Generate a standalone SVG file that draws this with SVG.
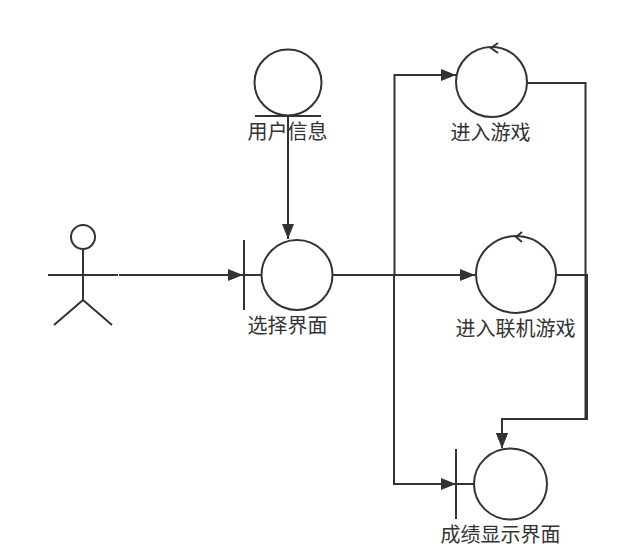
<svg xmlns="http://www.w3.org/2000/svg" width="617" height="551" viewBox="0 0 617 551">
<style>
.s{fill:none;stroke:#333;stroke-width:2}
.c{fill:#fff;stroke:#333;stroke-width:2}
.e{fill:none;stroke:#333;stroke-width:2}
text{font-family:"Noto Sans CJK SC","Liberation Sans",sans-serif;font-size:20px;fill:#333;text-anchor:middle}
</style>
<defs><marker id="a" markerUnits="userSpaceOnUse" markerWidth="16" markerHeight="12" refX="15" refY="6" orient="auto"><path d="M0 0L15 6L0 12L0 6Z" fill="#333"/></marker></defs>
<rect width="617" height="551" fill="#fff"/>
<g id="connectors">
<path class="e" d="M119 275H243" marker-end="url(#a)"/>
<path class="e" d="M288 116V239" marker-end="url(#a)"/>
<path class="e" d="M332 275H394.500V75H456" marker-end="url(#a)"/>
<path class="e" d="M394 275H475" marker-end="url(#a)"/>
<path class="e" d="M394 275V484H456" marker-end="url(#a)"/>
<path class="e" d="M527 83H585.500V419H502V448" marker-end="url(#a)"/>
<path class="e" d="M556 275H587V419H502V448" marker-end="url(#a)"/>
</g>
<g id="actor">
<circle class="c" cx="83" cy="237" r="12"/>
<path class="s" d="M83 250V300M48 275H118M83 300L54 325M83 300L112 325"/>
</g>
<g id="user-info">
<ellipse class="c" cx="288" cy="82.500" rx="33.500" ry="33"/>
<path class="s" d="M255 116H321"/>
<text x="287.500" y="139">用户信息</text>
</g>
<g id="select">
<path class="s" d="M244 240V310M244 275H261"/>
<ellipse class="c" cx="297" cy="275" rx="35.500" ry="35"/>
<text x="287.500" y="333">选择界面</text>
</g>
<g id="enter-game">
<ellipse class="c" cx="491.500" cy="82" rx="35.500" ry="35"/>
<path class="s" d="M498 43L491 48L498 53"/>
<text x="490.500" y="140">进入游戏</text>
</g>
<g id="enter-online">
<ellipse class="c" cx="516" cy="274.500" rx="40" ry="38.500"/>
<path class="s" d="M522 232L516 237L522 242"/>
<text x="515.500" y="336">进入联机游戏</text>
</g>
<g id="result">
<path class="s" d="M456 449V519M456 484H474"/>
<ellipse class="c" cx="510.500" cy="484" rx="36.500" ry="35.500"/>
<text x="500.500" y="542">成绩显示界面</text>
</g>
</svg>
